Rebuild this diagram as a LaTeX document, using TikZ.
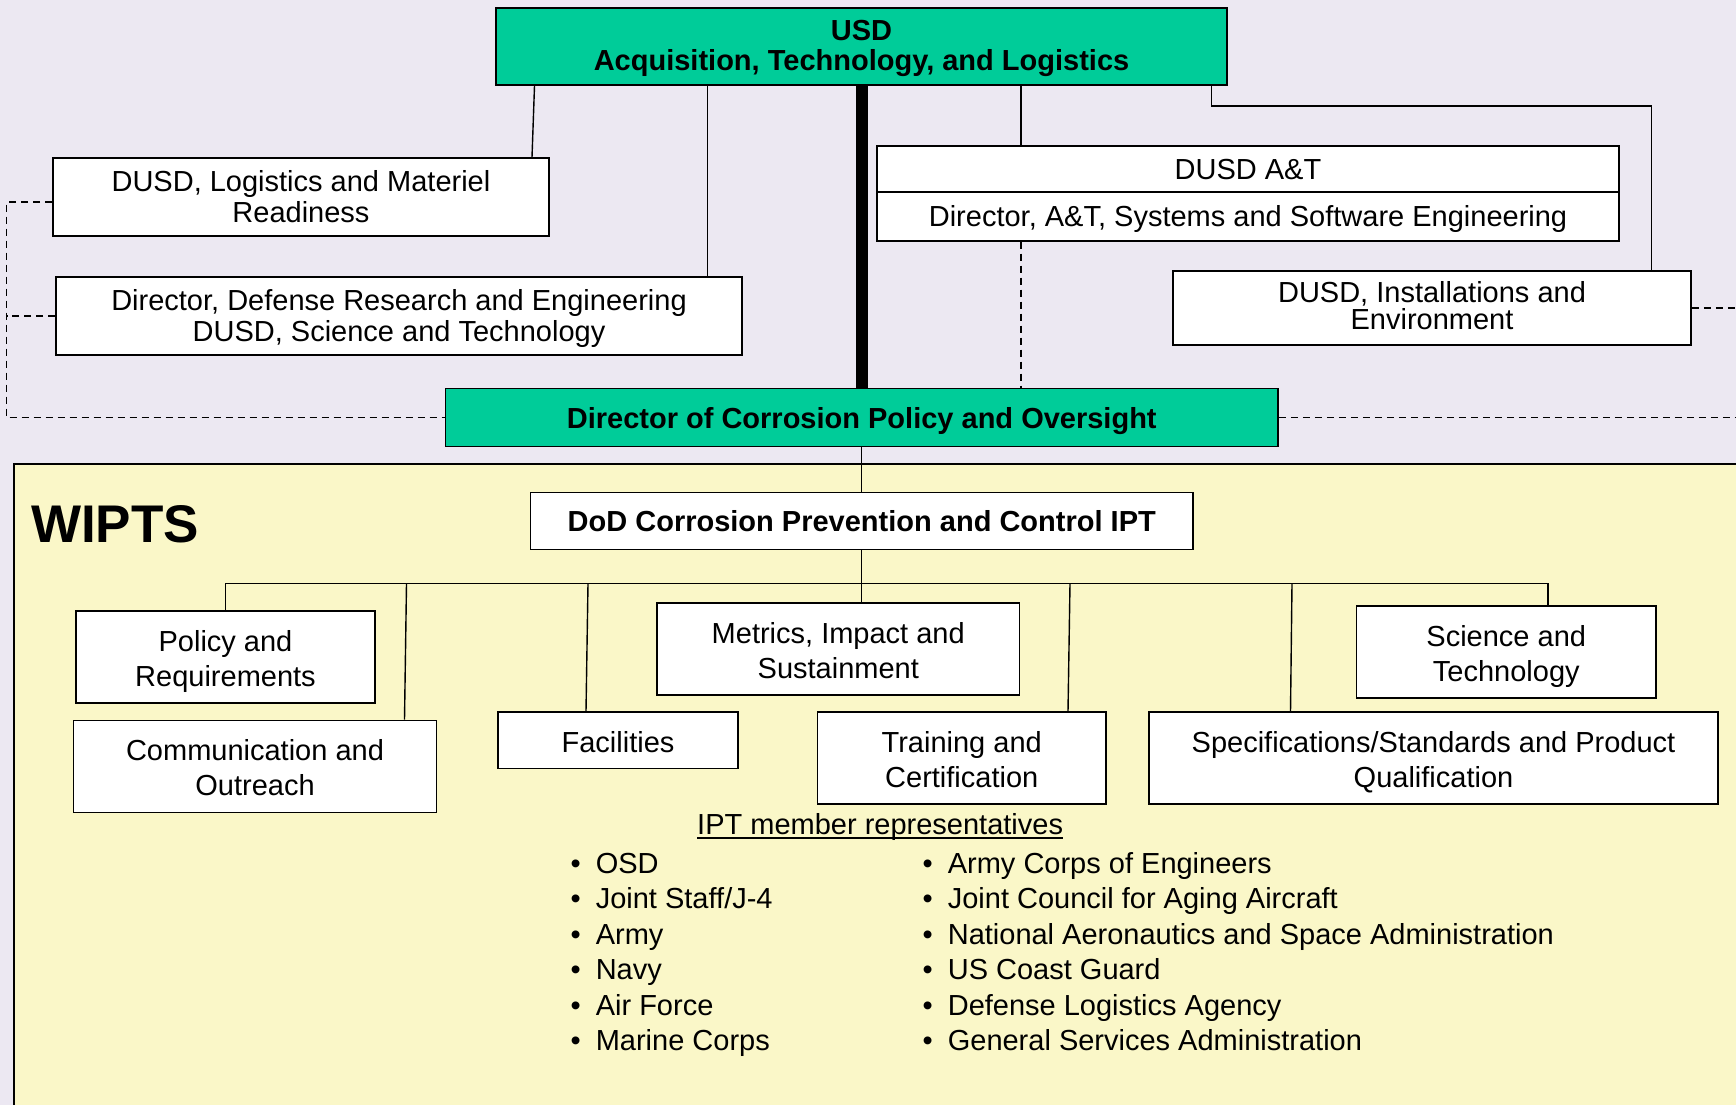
\documentclass[tikz,border=0pt]{standalone}
\usepackage{fontspec}
\setmainfont{Liberation Sans}
\definecolor{dodgreen}{RGB}{0,204,153}
\definecolor{bgtop}{RGB}{236,232,242}
\definecolor{bgwipt}{RGB}{250,247,200}
\newcommand\ts[1]{\rule{0pt}{#1pt}}
\newcommand\bs{\rule[-6.5pt]{0pt}{6.5pt}}
\begin{document}
\begin{tikzpicture}[x=1pt,y=-1pt,
  box/.style={draw=black, line width=1.6pt, fill=white, inner sep=0pt, align=center, font=\fontsize{29}{35}\selectfont},
  upbox/.style={box, font=\fontsize{29}{31.5}\selectfont},
  gbox/.style={box, fill=dodgreen, font=\bfseries\fontsize{29}{30}\selectfont},
  conn/.style={line width=1.4pt},
  dashc/.style={line width=1.4pt, dash pattern=on 7pt off 5pt},
  item/.style={anchor=base west, inner sep=0pt, font=\fontsize{29}{35}\selectfont},
  bul/.style={anchor=base, inner sep=0pt, font=\fontsize{29}{35}\selectfont},
]
\useasboundingbox (0,0) rectangle (1736,1105);
\fill[bgtop] (0,0) rectangle (1736,1105);
% WIPTS frame
\fill[bgwipt] (14,464) rectangle (1736,1105);
\draw[line width=1.6pt] (1736,464) -- (14,464) -- (14,1105);

% helper coordinates
\coordinate (xlgA) at (534.5,0);
\coordinate (xlgB) at (532,0);
\coordinate (xdd) at (707.5,0);
\coordinate (xat) at (1021,0);
\coordinate (ieA) at (1211.5,0);
\coordinate (ieB) at (1651.5,106);
\coordinate (dlt) at (6.7,202);
\coordinate (redge) at (1736,0);
\coordinate (busR) at (1548,583.5);
\coordinate (cmA) at (406.5,0);
\coordinate (cmB) at (404.5,0);
\coordinate (fcA) at (588,0);
\coordinate (fcB) at (586,0);
\coordinate (trA) at (1070,0);
\coordinate (trB) at (1068,0);
\coordinate (spA) at (1292,0);
\coordinate (spB) at (1290.5,0);

% upper nodes
\node[gbox, minimum width=731pt, minimum height=77pt] (usd) at (861.5,46.5) {\ts{24.1}USD\\Acquisition, Technology, and Logistics\bs};
\node[upbox, minimum width=496pt, minimum height=78pt] (lg) at (301,197) {\ts{26.3}DUSD, Logistics and Materiel\\Readiness\bs};
\node[upbox, minimum width=686pt, minimum height=78pt] (ddre) at (399,316) {\ts{26.3}Director, Defense Research and Engineering\\DUSD, Science and Technology\bs};
\node[upbox, minimum width=742pt, minimum height=46pt] (at1) at (1248,169) {\ts{27.3}DUSD A\&T\bs};
\node[upbox, minimum width=742pt, minimum height=48.7pt] (at2) at (1248,216.35) {\ts{27.3}Director, A\&T, Systems and Software Engineering\bs};
\node[box, font=\fontsize{29}{27}\selectfont, minimum width=518pt, minimum height=74.3pt] (ie) at (1432,307.85) {\ts{23.6}DUSD, Installations and\\Environment\bs};
\node[gbox, minimum width=832.5pt, minimum height=58pt] (dir) at (861.75,417.5) {\ts{29.3}Director of Corrosion Policy and Oversight\bs};

% upper connectors
\draw[line width=12pt] (usd.south) -- (usd.south |- dir.north);
\draw[conn] (usd.south -| xlgA) -- (lg.north -| xlgB);
\draw[conn] (usd.south -| xdd) -- (ddre.north -| xdd);
\draw[conn] (usd.south -| xat) -- (at1.north -| xat);
\draw[dashc] (at2.south -| xat) -- (dir.north -| xat);
\draw[conn] (usd.south -| ieA) |- (ieB) -- (ie.north -| ieB);
\draw[dashc] (lg.west |- dlt) -- (dlt) |- (dir.west);
\draw[dashc] (ddre.west) -- (ddre.west -| dlt);
\draw[dashc] (ie.east) -- (ie.east -| redge);
\draw[dashc] (dir.east) -- (dir.east -| redge);

% WIPTS area
\node[anchor=west, inner sep=0pt, font=\bfseries\fontsize{53}{53}\selectfont] (wipts) at (31,524) {WIPTS};
\node[box, font=\bfseries\fontsize{29}{30}\selectfont, minimum width=662.5pt, minimum height=56.8pt] (ipt) at (861.75,520.9) {\ts{28.3}DoD Corrosion Prevention and Control IPT\bs};
\node[box, minimum width=362.5pt, minimum height=92pt] (met) at (838.25,649) {\ts{29.9}Metrics, Impact and\\Sustainment\bs};
\node[box, minimum width=299pt, minimum height=92pt] (pol) at (225.5,657) {\ts{29.9}Policy and\\Requirements\bs};
\node[box, minimum width=363pt, minimum height=92pt] (comm) at (255,766.5) {\ts{29.9}Communication and\\Outreach\bs};
\node[box, minimum width=240pt, minimum height=56.5pt] (fac) at (618,740.25) {\ts{30.3}Facilities\bs};
\node[box, minimum width=288.5pt, minimum height=92pt] (tr) at (961.75,758) {\ts{29.9}Training and\\Certification\bs};
\node[box, minimum width=569pt, minimum height=92pt] (spec) at (1433.5,758) {\ts{29.9}Specifications/Standards and Product\\Qualification\bs};
\node[box, minimum width=299.5pt, minimum height=92.3pt] (st) at (1506.25,651.85) {\ts{29.9}Science and\\Technology\bs};

\draw[conn] (dir.south) -- (ipt.north);
\draw[conn] (ipt.south) -- (ipt.south |- met.north);
\draw[conn] (pol.north) |- (busR) -- (st.north -| busR);
\draw[conn] (busR -| cmA) -- (comm.north -| cmB);
\draw[conn] (busR -| fcA) -- (fac.north -| fcB);
\draw[conn] (busR -| trA) -- (tr.north -| trB);
\draw[conn] (busR -| spA) -- (spec.north -| spB);

% member list
\node[item] (rep) at (697,834) {IPT member representatives};
\draw[line width=1.4pt] ([yshift=-4pt]rep.base west) -- ([yshift=-4pt]rep.base east);
\foreach \t [count=\i] in {OSD, Joint Staff/J-4, Army, Navy, Air Force, Marine Corps} {
  \node[bul] (lb\i) at (575.6,{837.5+35.5*\i}) {\textbullet};
  \node[item] (li\i) at (595.6,{837.5+35.5*\i}) {\t};
}
\foreach \t [count=\i] in {Army Corps of Engineers, Joint Council for Aging Aircraft, National Aeronautics and Space Administration, US Coast Guard, Defense Logistics Agency, General Services Administration} {
  \node[bul] (rb\i) at (927.7,{837.5+35.5*\i}) {\textbullet};
  \node[item] (ri\i) at (947.6,{837.5+35.5*\i}) {\t};
}
\end{tikzpicture}
\end{document}
